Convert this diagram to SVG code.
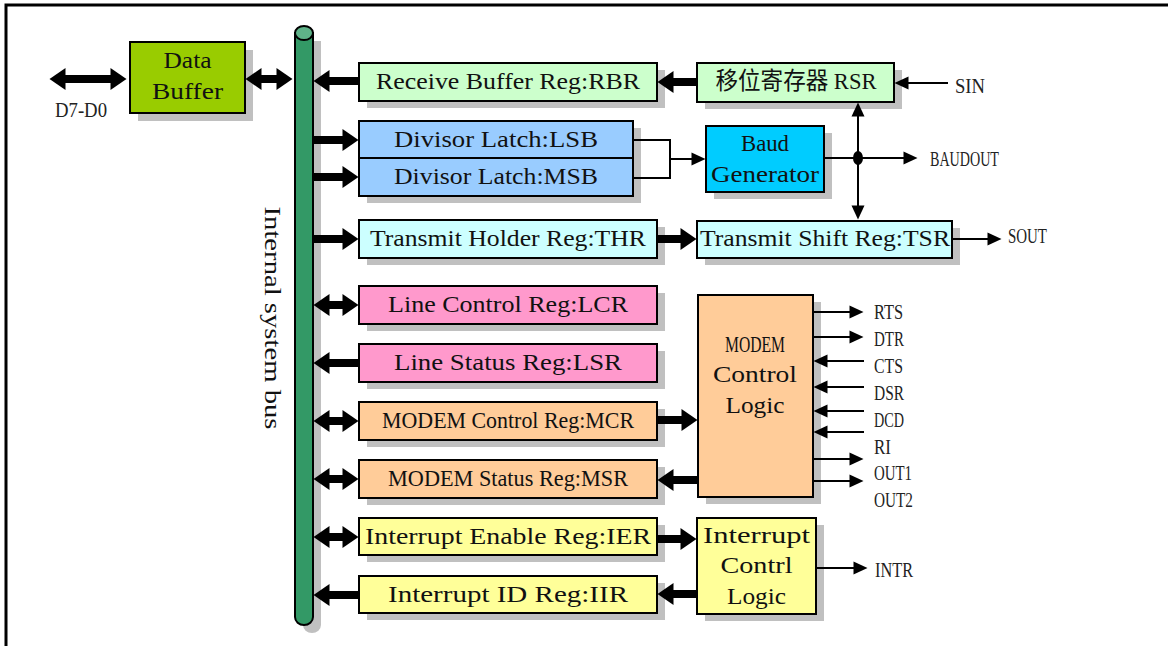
<svg xmlns="http://www.w3.org/2000/svg" width="1168" height="646" viewBox="0 0 1168 646">
<style>
.box{stroke:#000;stroke-width:2}
.sh{fill:#c0c0c0}
.t{font-family:"Liberation Serif","Noto Sans CJK SC",serif;font-size:24px;fill:#111;text-anchor:middle}
.s{font-family:"Liberation Serif",serif;font-size:20px;fill:#222}
.thick{stroke:#000;stroke-width:8;fill:none}
.thin{stroke:#000;stroke-width:2;fill:none}
</style>
<defs>
<marker id="hb" markerUnits="userSpaceOnUse" markerWidth="16" markerHeight="22" refX="0.5" refY="11" orient="auto-start-reverse" overflow="visible">
<path d="M0,0 L16,11 L0,22 Z" fill="#000"/>
</marker>
<marker id="hs" markerUnits="userSpaceOnUse" markerWidth="14" markerHeight="13" refX="0.5" refY="6.5" orient="auto-start-reverse" overflow="visible">
<path d="M0,0 L14,6.5 L0,13 Z" fill="#000"/>
</marker>
</defs>
<rect width="1168" height="646" fill="#fff"/>
<rect x="6" y="5" width="1170" height="660" fill="none" stroke="#000" stroke-width="3"/>

<g id="bus">
<path d="M303,41 L303,625 A9,8 0 0 0 321,625 L321,41 Z" class="sh"/>
<path d="M295,33 L295,617 A9,8 0 0 0 313,617 L313,33 Z" fill="#339966" stroke="#000" stroke-width="2"/>
<ellipse cx="304" cy="33" rx="9" ry="7" fill="#5fb389" stroke="#000" stroke-width="2"/>
<text class="t" font-size="22" transform="translate(265,318) rotate(90)" textLength="223" lengthAdjust="spacingAndGlyphs">Internal system bus</text>
</g>

<g id="databuffer">
<rect x="138" y="50" width="115" height="71" class="sh"/>
<rect x="130" y="42" width="115" height="71" fill="#99cc00" class="box"/>
<text class="t" x="187.5" y="68" textLength="48" lengthAdjust="spacingAndGlyphs">Data</text>
<text class="t" x="187.5" y="99" textLength="71" lengthAdjust="spacingAndGlyphs">Buffer</text>
</g>

<g id="rbr">
<rect x="367" y="70" width="298" height="38" class="sh"/>
<rect x="359" y="63" width="298" height="38" fill="#ccffcc" class="box"/>
<text class="t" x="508" y="88.5" textLength="264" lengthAdjust="spacingAndGlyphs">Receive Buffer Reg:RBR</text>
</g>

<g id="divisor">
<rect x="367" y="128" width="274" height="75" class="sh"/>
<rect x="359" y="121" width="274" height="37" fill="#99ccff" class="box"/>
<rect x="359" y="158" width="274" height="38" fill="#99ccff" class="box"/>
<text class="t" x="496" y="147" textLength="204" lengthAdjust="spacingAndGlyphs">Divisor Latch:LSB</text>
<text class="t" x="496" y="183.5" textLength="204" lengthAdjust="spacingAndGlyphs">Divisor Latch:MSB</text>
</g>

<g id="thr">
<rect x="367" y="227" width="298" height="38" class="sh"/>
<rect x="359" y="220" width="298" height="38" fill="#ccffff" class="box"/>
<text class="t" x="508" y="246" textLength="276" lengthAdjust="spacingAndGlyphs">Transmit Holder Reg:THR</text>
</g>

<g id="lcr">
<rect x="367" y="293" width="298" height="38" class="sh"/>
<rect x="359" y="286" width="298" height="38" fill="#ff99cc" class="box"/>
<text class="t" x="508" y="312" textLength="240" lengthAdjust="spacingAndGlyphs">Line Control Reg:LCR</text>
</g>

<g id="lsr">
<rect x="367" y="351" width="298" height="38" class="sh"/>
<rect x="359" y="344" width="298" height="38" fill="#ff99cc" class="box"/>
<text class="t" x="508" y="370" textLength="228" lengthAdjust="spacingAndGlyphs">Line Status Reg:LSR</text>
</g>

<g id="mcr">
<rect x="367" y="409" width="298" height="38" class="sh"/>
<rect x="359" y="402" width="298" height="38" fill="#ffcc99" class="box"/>
<text class="t" x="508" y="428" textLength="252" lengthAdjust="spacingAndGlyphs">MODEM Control Reg:MCR</text>
</g>

<g id="msr">
<rect x="367" y="467" width="298" height="38" class="sh"/>
<rect x="359" y="460" width="298" height="38" fill="#ffcc99" class="box"/>
<text class="t" x="508" y="486" textLength="240" lengthAdjust="spacingAndGlyphs">MODEM Status Reg:MSR</text>
</g>

<g id="ier">
<rect x="367" y="525" width="298" height="37" class="sh"/>
<rect x="359" y="518" width="298" height="37" fill="#ffff99" class="box"/>
<text class="t" x="508" y="544" textLength="286" lengthAdjust="spacingAndGlyphs">Interrupt Enable Reg:IER</text>
</g>

<g id="iir">
<rect x="367" y="583" width="298" height="37" class="sh"/>
<rect x="359" y="576" width="298" height="37" fill="#ffff99" class="box"/>
<text class="t" x="508" y="602" textLength="240" lengthAdjust="spacingAndGlyphs">Interrupt ID Reg:IIR</text>
</g>

<g id="rsr">
<rect x="705" y="70" width="197" height="39" class="sh"/>
<rect x="697" y="63" width="197" height="39" fill="#ccffcc" class="box"/>
<text class="t" x="796" y="89" textLength="161" lengthAdjust="spacingAndGlyphs">移位寄存器 RSR</text>
</g>

<g id="baud">
<rect x="714" y="133" width="118" height="66" class="sh"/>
<rect x="706" y="126" width="118" height="66" fill="#00ccff" class="box"/>
<text class="t" x="765" y="151" textLength="48" lengthAdjust="spacingAndGlyphs">Baud</text>
<text class="t" x="765" y="182" textLength="108" lengthAdjust="spacingAndGlyphs">Generator</text>
</g>

<g id="tsr">
<rect x="705" y="228" width="255" height="37" class="sh"/>
<rect x="697" y="221" width="255" height="37" fill="#ccffff" class="box"/>
<text class="t" x="825" y="246" textLength="250" lengthAdjust="spacingAndGlyphs">Transmit Shift Reg:TSR</text>
</g>

<g id="modemlogic">
<rect x="706" y="302" width="115" height="202" class="sh"/>
<rect x="698" y="295" width="115" height="202" fill="#ffcc99" class="box"/>
<text class="t" x="755" y="352" textLength="60" lengthAdjust="spacingAndGlyphs">MODEM</text>
<text class="t" x="755" y="382" textLength="84" lengthAdjust="spacingAndGlyphs">Control</text>
<text class="t" x="755" y="413" textLength="59" lengthAdjust="spacingAndGlyphs">Logic</text>
</g>

<g id="intlogic">
<rect x="705" y="525" width="119" height="96" class="sh"/>
<rect x="697" y="518" width="119" height="96" fill="#ffff99" class="box"/>
<text class="t" x="756.5" y="543" textLength="107" lengthAdjust="spacingAndGlyphs">Interrupt</text>
<text class="t" x="756.5" y="573" textLength="72" lengthAdjust="spacingAndGlyphs">Contrl</text>
<text class="t" x="756.5" y="604" textLength="59" lengthAdjust="spacingAndGlyphs">Logic</text>
</g>

<g id="labels">
<text class="s" x="55" y="117" textLength="52" lengthAdjust="spacingAndGlyphs">D7-D0</text>
<text class="s" x="955" y="93" textLength="30" lengthAdjust="spacingAndGlyphs">SIN</text>
<text class="s" x="930" y="166" textLength="69" lengthAdjust="spacingAndGlyphs">BAUDOUT</text>
<text class="s" x="1008" y="243" textLength="39" lengthAdjust="spacingAndGlyphs">SOUT</text>
<text class="s" x="874" y="319" textLength="29" lengthAdjust="spacingAndGlyphs">RTS</text>
<text class="s" x="874" y="346" textLength="30" lengthAdjust="spacingAndGlyphs">DTR</text>
<text class="s" x="874" y="373" textLength="29" lengthAdjust="spacingAndGlyphs">CTS</text>
<text class="s" x="874" y="400" textLength="30" lengthAdjust="spacingAndGlyphs">DSR</text>
<text class="s" x="874" y="427" textLength="30" lengthAdjust="spacingAndGlyphs">DCD</text>
<text class="s" x="874" y="454" textLength="17" lengthAdjust="spacingAndGlyphs">RI</text>
<text class="s" x="874" y="480" textLength="38" lengthAdjust="spacingAndGlyphs">OUT1</text>
<text class="s" x="874" y="507" textLength="39" lengthAdjust="spacingAndGlyphs">OUT2</text>
<text class="s" x="875" y="577" textLength="38" lengthAdjust="spacingAndGlyphs">INTR</text>
</g>

<g id="connectors">
<!-- thick bus connectors -->
<line x1="65" y1="79" x2="111" y2="79" class="thick" marker-start="url(#hb)" marker-end="url(#hb)"/>
<line x1="261" y1="79" x2="277" y2="79" class="thick" marker-start="url(#hb)" marker-end="url(#hb)"/>
<line x1="359" y1="81" x2="329" y2="81" class="thick" marker-end="url(#hb)"/>
<line x1="313" y1="140" x2="343" y2="140" class="thick" marker-end="url(#hb)"/>
<line x1="313" y1="177" x2="343" y2="177" class="thick" marker-end="url(#hb)"/>
<line x1="313" y1="239" x2="343" y2="239" class="thick" marker-end="url(#hb)"/>
<line x1="329" y1="305" x2="343" y2="305" class="thick" marker-start="url(#hb)" marker-end="url(#hb)"/>
<line x1="359" y1="363" x2="329" y2="363" class="thick" marker-end="url(#hb)"/>
<line x1="329" y1="421" x2="343" y2="421" class="thick" marker-start="url(#hb)" marker-end="url(#hb)"/>
<line x1="329" y1="479" x2="343" y2="479" class="thick" marker-start="url(#hb)" marker-end="url(#hb)"/>
<line x1="329" y1="537" x2="343" y2="537" class="thick" marker-start="url(#hb)" marker-end="url(#hb)"/>
<line x1="359" y1="595" x2="329" y2="595" class="thick" marker-end="url(#hb)"/>
<!-- right side thick -->
<line x1="697" y1="82" x2="673" y2="82" class="thick" marker-end="url(#hb)"/>
<line x1="657" y1="239" x2="681" y2="239" class="thick" marker-end="url(#hb)"/>
<line x1="657" y1="420" x2="682" y2="420" class="thick" marker-end="url(#hb)"/>
<line x1="698" y1="480" x2="673" y2="480" class="thick" marker-end="url(#hb)"/>
<line x1="657" y1="539" x2="681" y2="539" class="thick" marker-end="url(#hb)"/>
<line x1="697" y1="594" x2="673" y2="594" class="thick" marker-end="url(#hb)"/>
<!-- thin -->
<line x1="948" y1="83" x2="908" y2="83" class="thin" marker-end="url(#hs)"/>
<polyline points="633,140 670,140 670,178 633,178" class="thin"/>
<line x1="670" y1="159" x2="692" y2="159" class="thin" marker-end="url(#hs)"/>
<line x1="824" y1="158" x2="904" y2="158" class="thin" marker-end="url(#hs)"/>
<line x1="858" y1="116" x2="858" y2="206" class="thin" marker-start="url(#hs)" marker-end="url(#hs)"/>
<ellipse cx="858" cy="158" rx="5" ry="7" fill="#000"/>
<line x1="952" y1="239" x2="988" y2="239" class="thin" marker-end="url(#hs)"/>
<line x1="813" y1="312" x2="850" y2="312" class="thin" marker-end="url(#hs)"/>
<line x1="813" y1="337" x2="850" y2="337" class="thin" marker-end="url(#hs)"/>
<line x1="864" y1="361" x2="827" y2="361" class="thin" marker-end="url(#hs)"/>
<line x1="864" y1="387" x2="827" y2="387" class="thin" marker-end="url(#hs)"/>
<line x1="864" y1="411" x2="827" y2="411" class="thin" marker-end="url(#hs)"/>
<line x1="864" y1="432" x2="827" y2="432" class="thin" marker-end="url(#hs)"/>
<line x1="813" y1="459" x2="850" y2="459" class="thin" marker-end="url(#hs)"/>
<line x1="813" y1="481" x2="850" y2="481" class="thin" marker-end="url(#hs)"/>
<line x1="816" y1="568" x2="854" y2="568" class="thin" marker-end="url(#hs)"/>
</g>
</svg>
